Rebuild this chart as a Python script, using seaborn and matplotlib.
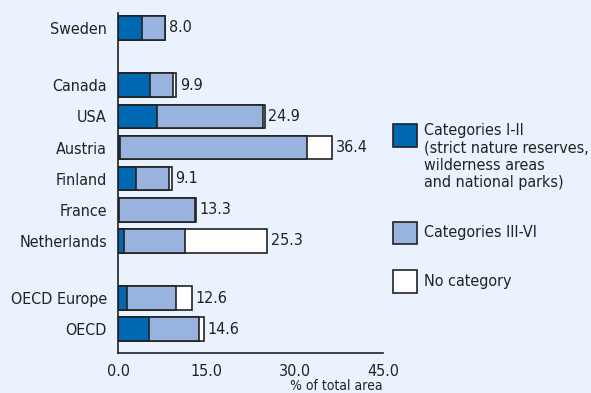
import matplotlib
matplotlib.use("Agg")
import matplotlib.pyplot as plt
import seaborn as sns
import pandas as pd
from matplotlib.patches import Rectangle

countries = ["Sweden", "Canada", "USA", "Austria", "Finland", "France",
             "Netherlands", "OECD Europe", "OECD"]
positions = [0.0, 1.85, 2.85, 3.85, 4.85, 5.85, 6.85, 8.7, 9.7]
cat_1_2 = [4.0, 5.4, 6.6, 0.4, 3.1, 0.2, 1.0, 1.6, 5.3]
cat_3_6 = [3.9, 4.0, 18.1, 31.7, 5.5, 12.9, 10.4, 8.2, 8.5]
totals = [8.0, 9.9, 24.9, 36.4, 9.1, 13.3, 25.3, 12.6, 14.6]
total_labels = ["8.0", "9.9", "24.9", "36.4", "9.1", "13.3", "25.3", "12.6", "14.6"]
xticks = [0, 15, 30, 45]
xtick_labels = ["0.0", "15.0", "30.0", "45.0"]
legend_labels = ["Categories I-II\n(strict nature reserves,\nwilderness areas\nand national parks)",
                 "Categories III-VI", "No category"]

BG = "#eaf2fd"
DARK = "#0068b3"
LIGHT = "#97b3de"
WHITE = "#ffffff"
INK = "#222222"

sns.set_theme(style="white")
plt.rcParams["font.family"] = ["DejaVu Sans"]
plt.rcParams["font.stretch"] = "condensed"

df = pd.DataFrame({
    "pos": positions,
    "c12": cat_1_2,
    "c12_36": [a + b for a, b in zip(cat_1_2, cat_3_6)],
    "total": totals,
})

W, H = 591, 393
fig = plt.figure(figsize=(W / 100, H / 100), dpi=100, facecolor=BG)
ax = fig.add_axes([118 / W, 1 - 353 / H, 265 / W, 340 / H])
ax.set_facecolor(BG)

common = dict(data=df, y="pos", orient="h", native_scale=True, width=0.77,
              edgecolor=INK, linewidth=1.2, saturation=1, ax=ax)
sns.barplot(x="total", color=WHITE, **common)
sns.barplot(x="c12_36", color=LIGHT, **common)
sns.barplot(x="c12", color=DARK, **common)

FS = 11.5
for p, t, lab in zip(positions, totals, total_labels):
    ax.text(t + 0.6, p, lab, va="center", ha="left", fontsize=FS, color=INK)

ax.set_xlim(0, 45)
ax.set_ylim(10.47, -0.483)
ax.set_yticks(positions)
ax.set_yticklabels(countries, fontsize=FS, color=INK)
ax.set_xticks(xticks)
ax.set_xticklabels(xtick_labels, fontsize=FS, color=INK)
ax.tick_params(axis="y", length=0, pad=8)
ax.tick_params(axis="x", direction="in", length=6, width=1.2, color=INK, pad=8)
ax.set_xlabel("")
ax.set_ylabel("")
for s in ["top", "right"]:
    ax.spines[s].set_visible(False)
for s in ["left", "bottom"]:
    ax.spines[s].set_color(INK)
    ax.spines[s].set_linewidth(1.2)

fig.text(383 / W, 1 - 386 / H, "% of total area", ha="right", va="center",
         fontsize=10, color=INK)

# legend (drawn manually to keep the swatch aligned with the first text line)
swatches = [(DARK, 124, 147), (LIGHT, 222, 244), (WHITE, 270, 293)]
text_pos = [(123, "top"), (233, "center"), (281.5, "center")]
for (c, top, bot), (ty, va), lab in zip(swatches, text_pos, legend_labels):
    fig.patches.append(Rectangle((393 / W, 1 - bot / H), 24 / W, (bot - top) / H,
                                 transform=fig.transFigure, facecolor=c,
                                 edgecolor=INK, linewidth=1.2))
    fig.text(424 / W, 1 - ty / H, lab, ha="left", va=va, fontsize=FS, color=INK,
             linespacing=1.2)

fig.savefig("out.png", dpi=100, facecolor=BG)
